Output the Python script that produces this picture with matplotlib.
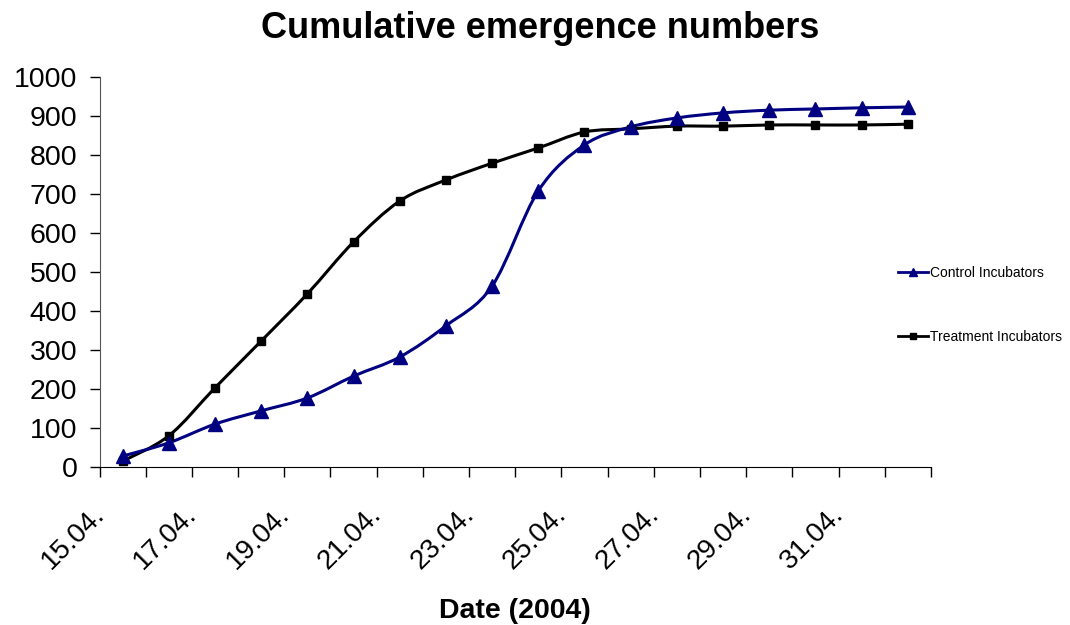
import matplotlib.pyplot as plt
import matplotlib.transforms as mtransforms
from matplotlib.path import Path
from matplotlib.patches import PathPatch
from matplotlib.lines import Line2D

plt.rcParams['font.family'] = ['Liberation Sans', 'DejaVu Sans']

# dates (one category per day)
dates = ['15.04.', '16.04.', '17.04.', '18.04.', '19.04.', '20.04.', '21.04.',
         '22.04.', '23.04.', '24.04.', '25.04.', '26.04.', '27.04.', '28.04.',
         '29.04.', '30.04.', '31.04.', '01.05.']
control = [28, 62, 110, 144, 177, 233, 282, 362, 464, 708, 826, 872, 895,
           908, 915, 918, 921, 923]
treatment = [15, 80, 203, 323, 444, 577, 682, 736, 779, 818, 859, 867, 874,
             874, 877, 877, 877, 879]


# smooth curve through the points (catmull-rom as bezier segments)
def smooth_path(xs, ys):
    pts = list(zip(xs, ys))
    verts = [pts[0]]
    codes = [Path.MOVETO]
    n = len(pts)
    for i in range(n - 1):
        p0 = pts[i - 1] if i > 0 else pts[i]
        p1 = pts[i]
        p2 = pts[i + 1]
        p3 = pts[i + 2] if i + 2 < n else pts[i + 1]
        c1 = (p1[0] + (p2[0] - p0[0]) / 6, p1[1] + (p2[1] - p0[1]) / 6)
        c2 = (p2[0] - (p3[0] - p1[0]) / 6, p2[1] - (p3[1] - p1[1]) / 6)
        verts += [c1, c2, p2]
        codes += [Path.CURVE4] * 3
    return Path(verts, codes)


fig = plt.figure(figsize=(10.7, 6.25), dpi=100)
ax = fig.add_axes([0.093, 0.2528, 0.777, 0.624])

x = list(range(len(dates)))
for vals, col, mk, ms in [(treatment, 'black', 's', 5.5),
                          (control, '#000080', '^', 9.5)]:
    ax.add_patch(PathPatch(smooth_path(x, vals), fill=False, edgecolor=col,
                           lw=2.2, zorder=3))
    ax.plot(x, vals, ls='none', marker=mk, color=col, ms=ms, zorder=4)

ax.set_xlim(-0.5, len(dates) - 0.5)
ax.set_ylim(0, 1000)
ax.set_yticks(range(0, 1001, 100))
ax.tick_params(axis='y', labelsize=20.5, length=7, width=1, pad=9)

# category boundaries get the tick marks, labels every other day
ax.set_xticks([i - 0.5 for i in range(len(dates) + 1)], minor=True)
ax.set_xticks(x[::2])
ax.set_xticklabels(dates[::2], rotation=45, ha='right', fontsize=20)
ax.tick_params(axis='x', which='major', length=0, pad=25)
ax.tick_params(axis='x', which='minor', length=7, width=1)
shift = mtransforms.ScaledTranslation(-13 / 100, 0, fig.dpi_scale_trans)
for lbl in ax.get_xticklabels():
    lbl.set_transform(lbl.get_transform() + shift)

for s in ['top', 'right']:
    ax.spines[s].set_visible(False)
ax.spines['left'].set_color('#555555')

ax.set_xlabel('Date (2004)', fontsize=20.5, fontweight='bold', labelpad=17)
fig.text(0.505, 0.955, 'Cumulative emergence numbers', ha='center',
         va='center', fontsize=26, fontweight='bold')

handles = [Line2D([], [], color='#000080', lw=2, marker='^', ms=6),
           Line2D([], [], color='black', lw=2, marker='s', ms=4)]
fig.legend(handles, ['Control Incubators', 'Treatment Incubators'],
           loc='upper left', bbox_to_anchor=(0.828, 0.595), frameon=False,
           fontsize=10, handlelength=2.1, handletextpad=0.2,
           labelspacing=3.6)

fig.savefig('out.png', dpi=100)
